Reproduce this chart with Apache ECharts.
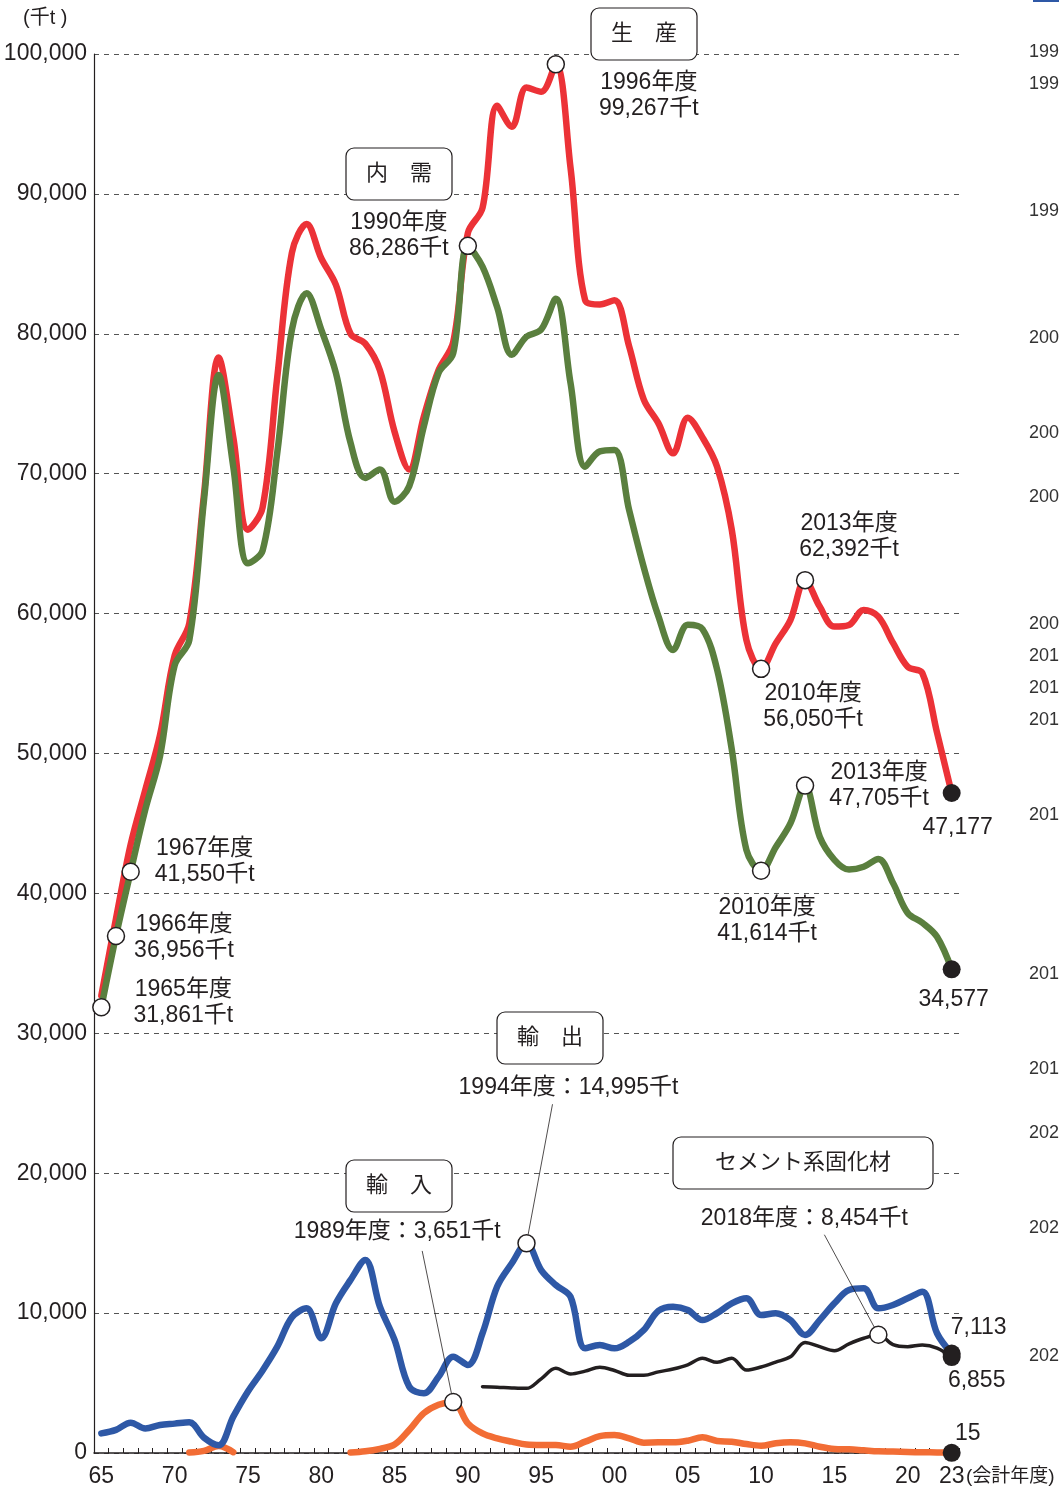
<!DOCTYPE html>
<html>
<head>
<meta charset="utf-8">
<script src="https://cdn.jsdelivr.net/npm/echarts@6/dist/echarts.min.js"></script>
<style>
html, body { margin: 0; padding: 0; background: #fff; }
#main { width: 1059px; height: 1490px; }
</style>
</head>
<body>
<div id="main"></div>
<script>
// 年度 1965〜2023
const years = []
for (let y = 1965; y <= 2023; y++) years.push(String(y))

// 生産（千t）
const production = [
  32700, 38200, 43500, 47400, 51300, 57000, 59300, 68500, 78300, 72600,
  66000, 67600, 76900, 85800, 87850, 85400, 83500, 80000, 79300, 77400,
  73000, 70300, 74100, 77400, 79400, 87200, 89000, 96300, 94800, 97600,
  97300, 99267, 91900, 82400, 82100, 82400, 79100, 75300, 73600, 71460,
  74000, 72600, 70500, 66000, 58100, 56050, 57870, 59540, 62392, 60500,
  59070, 59190, 60260, 59780, 57900, 56200, 55750, 51500, 47177
]
// 内需
const demand = [
  31861, 36956, 41550, 46000, 49800, 56300, 58100, 68100, 77050, 70500,
  63600, 64500, 71500, 80300, 82900, 80300, 77200, 72200, 69700, 70300,
  68000, 69100, 73400, 77200, 78600, 86286, 84800, 81900, 78500, 79800,
  80300, 82500, 76500, 70500, 71600, 71700, 67400, 63300, 59800, 57400,
  59200, 58900, 56000, 50300, 43100, 41614, 43300, 45000, 47705, 44050,
  42400, 41700, 41900, 42460, 40740, 38600, 37900, 36900, 34577
]
// 輸出
const exportVol = [
  1400, 1650, 2170, 1750, 2000, 2100, 2200, 1100, 550, 2600,
  4400, 5900, 7600, 9700, 10340, 8200, 10700, 12370, 13800, 10460,
  8080, 4740, 4270, 5450, 6880, 6290, 8560, 11900, 13560, 14995,
  13080, 12010, 11170, 7480, 7720, 7480, 7950, 8790, 10170, 10460,
  10220, 9500, 10000, 10700, 11060, 9860, 9990, 9500, 8430, 9500,
  10700, 11650, 11770, 10340, 10580, 11060, 11530, 8560, 7113
]
// 輸入（記録のない年は null）
const importVol = [
  null, null, null, null, null, null, 30, 150, 500, 60,
  null, null, null, null, null, null, null, 30, 120, 300,
  600, 1640, 2850, 3450, 3651, 2120, 1400, 1050, 810, 600,
  570, 570, 450, 810, 1210, 1290, 1050, 740, 760, 760,
  880, 1120, 860, 810, 640, 520, 690, 760, 690, 450,
  290, 260, 190, 120, 100, 70, 50, 40, 15
]
// セメント系固化材（1991年度から）
const cementSolid = [
  null, null, null, null, null, null, null, null, null, null,
  null, null, null, null, null, null, null, null, null, null,
  null, null, null, null, null, null, 4740, 4700, 4650, 4620,
  5300, 6050, 5650, 5850, 6130, 5900, 5550, 5550, 5800, 6000,
  6300, 6770, 6480, 6770, 5930, 6150, 6500, 6880, 7900, 7600,
  7310, 7800, 8200, 8454, 7750, 7600, 7720, 7500, 6855
]

// 白丸の注記点
const prodMarks = [['1996', 99267], ['2010', 56050], ['2013', 62392]]
const demandMarks = [['1965', 31861], ['1966', 36956], ['1967', 41550], ['1990', 86286], ['2010', 41614], ['2013', 47705]]
const exportMarks = [['1994', 14995]]
const importMarks = [['1989', 3651]]
const cementMarks = [['2018', 8454]]
// 最終年度の黒丸
const endMarks = [['2023', 47177], ['2023', 34577], ['2023', 7113], ['2023', 6855], ['2023', 15]]

// 右端で切れている隣の表の年
const sideLabels = [
  ['199', 52], ['199', 84], ['199', 211], ['200', 338], ['200', 433], ['200', 497], ['200', 624],
  ['201', 656], ['201', 688], ['201', 720], ['201', 815], ['201', 974], ['201', 1069],
  ['202', 1133], ['202', 1228], ['202', 1356]
]

const FONT = "'Liberation Sans', 'Noto Sans CJK JP', sans-serif"
const INK = '#231f20'
const fmt = v => v.toLocaleString('en-US')
const idx = p => [years.indexOf(p[0]), p[1]]

const line = (name, data, color, width, z) => ({
  name, type: 'line', data, z,
  smooth: 0.35, symbol: 'none', connectNulls: false,
  lineStyle: { color, width, cap: 'round', join: 'round' }
})

const chart = echarts.init(document.getElementById('main'))
chart.setOption({
  animation: false,
  grid: { left: 94, top: 54, width: 865, height: 1399, containLabel: false, outerBoundsMode: 'none' },
  xAxis: {
    type: 'category',
    data: years,
    boundaryGap: true,
    axisLine: { show: true, lineStyle: { color: INK, width: 1.5 } },
    axisTick: { show: true, inside: true, length: 5, interval: 0, lineStyle: { color: INK, width: 1 } },
    axisLabel: {
      interval: (i, v) => (+v - 1965) % 5 === 0 || v === '2023',
      formatter: v => v.slice(2),
      margin: 12, fontSize: 23, color: INK, fontFamily: FONT
    },
    splitLine: { show: false }
  },
  yAxis: {
    type: 'value',
    min: 0, max: 100000, interval: 10000,
    axisLine: { show: true, lineStyle: { color: INK, width: 1.2 } },
    axisTick: { show: false },
    axisLabel: { formatter: v => fmt(v), margin: 7, fontSize: 23, color: INK, fontFamily: FONT },
    splitLine: { show: true, lineStyle: { color: '#555', width: 1, type: [5, 5] } }
  },
  series: [
    line('生産', production, '#ec3237', 6.5, 3),
    line('内需', demand, '#5a7f3e', 6.5, 4),
    line('輸入', importVol, '#f26d35', 6.5, 3),
    line('セメント系固化材', cementSolid, INK, 3.5, 4),
    line('輸出', exportVol, '#2e58a6', 6.5, 5),
    {
      type: 'scatter', z: 10, symbolSize: 17,
      data: [...prodMarks, ...demandMarks, ...exportMarks, ...importMarks, ...cementMarks].map(idx),
      itemStyle: { color: '#fff', borderColor: INK, borderWidth: 1.5, opacity: 1 }
    },
    {
      type: 'scatter', z: 10, symbolSize: 18,
      data: endMarks.map(idx),
      itemStyle: { color: INK, opacity: 1 }
    }
  ]
})

// 注記の配置（マーカーからのずれ）
const px = p => chart.convertToPixel({ gridIndex: 0 }, idx(p))
const two = p => `${p[0]}年度\n${fmt(p[1])}千t`
const one = p => `${p[0]}年度：${fmt(p[1])}千t`
const notes = [
  { p: prodMarks[0], text: two(prodMarks[0]), dx: 93, dy: 31 },
  { p: prodMarks[1], text: two(prodMarks[1]), dx: 52, dy: 38 },
  { p: prodMarks[2], text: two(prodMarks[2]), dx: 44, dy: -43 },
  { p: demandMarks[0], text: two(demandMarks[0]), dx: 82, dy: -5 },
  { p: demandMarks[1], text: two(demandMarks[1]), dx: 68, dy: 2 },
  { p: demandMarks[2], text: two(demandMarks[2]), dx: 74, dy: -10 },
  { p: demandMarks[3], text: two(demandMarks[3]), dx: -69, dy: -10 },
  { p: demandMarks[4], text: two(demandMarks[4]), dx: 6, dy: 50 },
  { p: demandMarks[5], text: two(demandMarks[5]), dx: 74, dy: 0 },
  { p: endMarks[0], text: fmt(endMarks[0][1]), dx: 6, dy: 35 },
  { p: endMarks[1], text: fmt(endMarks[1][1]), dx: 2, dy: 30 },
  { p: endMarks[2], text: fmt(endMarks[2][1]), dx: 27, dy: -26 },
  { p: endMarks[3], text: fmt(endMarks[3][1]), dx: 25, dy: 24 },
  { p: endMarks[4], text: fmt(endMarks[4][1]), dx: 16, dy: -19 },
  { p: exportMarks[0], text: one(exportMarks[0]), dx: 42, dy: -156, lx: 26, ly: -139 },
  { p: importMarks[0], text: one(importMarks[0]), dx: -56, dy: -170, lx: -31, ly: -151 },
  { p: cementMarks[0], text: one(cementMarks[0]), dx: -74, dy: -116, lx: -54, ly: -100 }
]

const elements = []
notes.forEach(n => {
  const [x, y] = px(n.p)
  elements.push({
    type: 'text', x: x + n.dx, y: y + n.dy, z: 100,
    style: { text: n.text, align: 'center', verticalAlign: 'middle', fontSize: 23, lineHeight: 26, fontFamily: FONT, fill: INK }
  })
  if (n.lx !== undefined) {
    const len = Math.hypot(n.lx, n.ly)
    elements.push({
      type: 'line', z: 100,
      shape: { x1: x + n.lx, y1: y + n.ly, x2: x + n.lx * 8.5 / len, y2: y + n.ly * 8.5 / len },
      style: { stroke: INK, lineWidth: 0.8 }
    })
  }
})

// 系列名の枠
const boxes = [
  { text: '生　産', x: 591, y: 8, w: 106 },
  { text: '内　需', x: 346, y: 148, w: 106 },
  { text: '輸　出', x: 497, y: 1012, w: 106 },
  { text: '輸　入', x: 346, y: 1160, w: 106 },
  { text: 'セメント系固化材', x: 673, y: 1137, w: 260 }
]
boxes.forEach(b => {
  elements.push({
    type: 'rect', z: 100,
    shape: { x: b.x, y: b.y, width: b.w, height: 52, r: 8 },
    style: { fill: '#fff', stroke: INK, lineWidth: 1.2 }
  })
  elements.push({
    type: 'text', z: 101, x: b.x + b.w / 2, y: b.y + 26,
    style: { text: b.text, align: 'center', verticalAlign: 'middle', fontSize: 22, fontFamily: FONT, fill: INK }
  })
})

// 単位
elements.push({
  type: 'text', z: 100, x: 23, y: 18,
  style: { text: '(千t )', verticalAlign: 'middle', fontSize: 20, fontFamily: FONT, fill: INK }
})
elements.push({
  type: 'text', z: 100, x: 966, y: 1477,
  style: { text: '(会計年度)', verticalAlign: 'middle', fontSize: 19, fontFamily: FONT, fill: INK }
})

// 右端の切れた表
sideLabels.forEach(s => {
  elements.push({
    type: 'text', z: 100, x: 1029, y: s[1],
    style: { text: s[0], verticalAlign: 'middle', fontSize: 18, fontFamily: FONT, fill: '#333' }
  })
})
elements.push({ type: 'rect', z: 100, shape: { x: 1033, y: 0, width: 26, height: 2 }, style: { fill: '#2e58a6' } })

chart.setOption({ graphic: { elements } })
</script>
</body>
</html>
